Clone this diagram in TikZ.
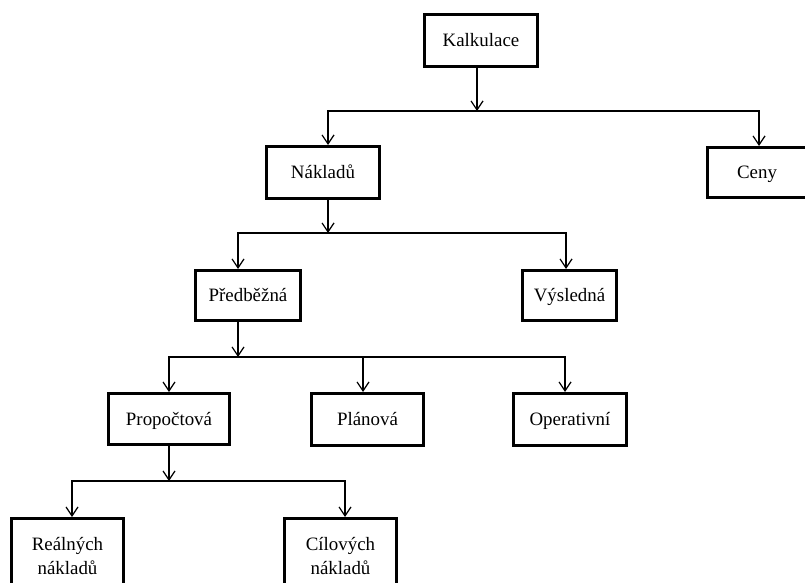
\documentclass[tikz,border=0pt]{standalone}
\usepackage{fontspec}
\setmainfont{Liberation Serif}
\usetikzlibrary{arrows.meta,calc}
\begin{document}
\begin{tikzpicture}[x=1pt,y=-1pt,
  box/.style={draw, line width=2.8pt, rectangle, inner sep=0pt, align=center,
    font=\fontsize{18.9}{24}\selectfont},
  oneline/.style={box, text height=12.6pt, text depth=0pt},
  arr/.style={line width=1.2pt,
    -{Straight Barb[length=9pt,width=12pt,line width=1.2pt]}}]
\useasboundingbox (0,0) rectangle (805,583);

% boxes
\node[oneline, minimum width=113.2pt, minimum height=52.2pt] (kalk) at (481,40.5) {Kalkulace};
\node[oneline, minimum width=113.2pt, minimum height=52.2pt] (nakl) at (323,172.5) {Nákladů};
\node[oneline, minimum width=99.2pt,  minimum height=50.2pt] (ceny) at (757,172.5) {Ceny};
\node[oneline, minimum width=105.2pt, minimum height=50.2pt] (pred) at (248,295.5) {Předběžná};
\node[oneline, minimum width=94.2pt,  minimum height=50.2pt] (vysl) at (569.5,295.5) {Výsledná};
\node[oneline, minimum width=121.2pt, minimum height=51.2pt] (prop) at (169,419) {Propočtová};
\node[oneline, minimum width=112.2pt, minimum height=52.2pt] (plan) at (367.5,419.5) {Plánová};
\node[oneline, minimum width=113.2pt, minimum height=52.2pt] (oper) at (570,419.5) {Operativní};
\node[box, minimum width=112.2pt, minimum height=75.2pt] (real) at (67.5,556) {Reálných\\nákladů};
\node[box, minimum width=112.2pt, minimum height=75.2pt] (cil)  at (340.5,556) {Cílových\\nákladů};

% branching points of the tree
\coordinate (j1) at (477,111);
\coordinate (j2) at (328,233);
\coordinate (j3) at (238,357);
\coordinate (j4) at (169,481);

% Kalkulace
\draw[arr] (kalk.south -| j1) -- (j1);
\draw[arr] (j1) -| ([xshift=5pt]nakl.north);
\draw[arr] (j1) -| ([xshift=2pt]ceny.north);

% Nákladů
\draw[arr] (nakl.south -| j2) -- (j2);
\draw[arr] (j2) -| ([xshift=-10pt]pred.north);
\draw[arr] (j2) -| ([xshift=-3.5pt]vysl.north);

% Předběžná
\draw[arr] (pred.south -| j3) -- (j3);
\draw[arr] (j3) -| (prop.north);
\draw[arr] (j3) -| ([xshift=-4.5pt]plan.north);
\draw[arr] (j3) -| ([xshift=-5pt]oper.north);

% Propočtová
\draw[arr] (prop.south -| j4) -- (j4);
\draw[arr] (j4) -| ([xshift=4.5pt]real.north);
\draw[arr] (j4) -| ([xshift=4.5pt]cil.north);
\end{tikzpicture}
\end{document}
